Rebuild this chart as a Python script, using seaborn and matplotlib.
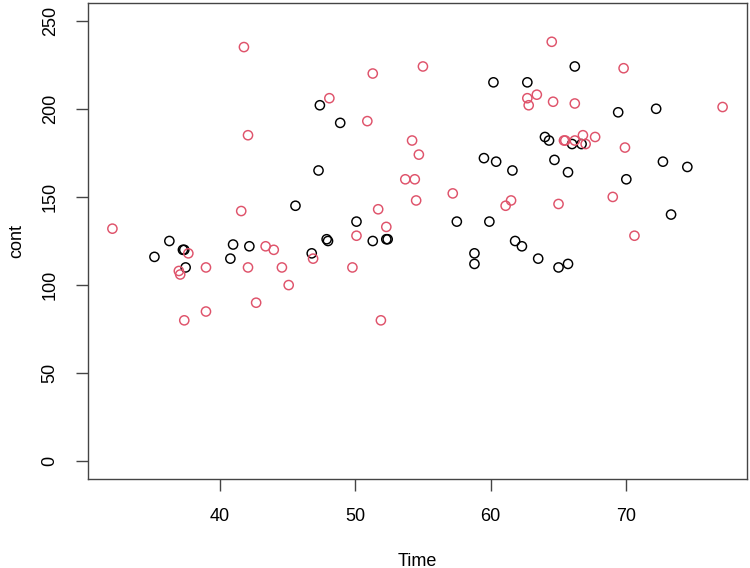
import pandas as pd
import seaborn as sns
import matplotlib.pyplot as plt

# points, group 1 (black) and group 2 (red)
time_1 = [35.2, 36.3, 37.3, 37.4, 37.5, 41.0, 40.8, 42.2, 45.6, 46.8,
          47.4, 47.3, 47.9, 48.0, 48.9, 50.1, 51.3, 52.3, 52.4, 57.5,
          58.8, 58.8, 59.5, 59.9, 60.2, 60.4, 61.6, 61.8, 62.3, 62.7,
          63.5, 64.0, 64.3, 64.7, 65.0, 65.7, 65.7, 66.0, 66.2, 66.7,
          69.4, 70.0, 72.2, 72.7, 73.3, 74.5]
cont_1 = [116, 125, 120, 120, 110, 123, 115, 122, 145, 118,
          202, 165, 126, 125, 192, 136, 125, 126, 126, 136,
          118, 112, 172, 136, 215, 170, 165, 125, 122, 215,
          115, 184, 182, 171, 110, 164, 112, 180, 224, 180,
          198, 160, 200, 170, 140, 167]

time_2 = [32.1, 41.8, 42.1, 41.6, 37.0, 37.1, 37.7, 39.0, 37.4, 39.0,
          42.1, 42.7, 43.4, 44.0, 44.6, 45.1, 46.9, 48.1, 49.8, 50.1,
          50.9, 51.3, 51.7, 51.9, 52.3, 53.7, 54.2, 54.4, 54.5, 54.7,
          55.0, 57.2, 61.1, 61.5, 62.7, 62.8, 63.4, 64.5, 64.6, 65.0,
          65.4, 65.5, 66.2, 66.2, 66.8, 67.0, 67.7, 69.0, 69.8, 69.9,
          70.6, 77.1]
cont_2 = [132, 235, 185, 142, 108, 106, 118, 110, 80, 85,
          110, 90, 122, 120, 110, 100, 115, 206, 110, 128,
          193, 220, 143, 80, 133, 160, 182, 160, 148, 174,
          224, 152, 145, 148, 206, 202, 208, 238, 204, 146,
          182, 182, 182, 203, 185, 180, 184, 150, 223, 178,
          128, 201]

df = pd.DataFrame({
    "Time": time_1 + time_2,
    "cont": cont_1 + cont_2,
    "group": ["1"] * len(time_1) + ["2"] * len(time_2),
})

sns.set_style("white")
plt.rcParams["font.family"] = ["Liberation Sans", "DejaVu Sans"]

fig = plt.figure(figsize=(7.5, 5.68), dpi=100)
ax = fig.add_axes([88 / 750, 89 / 568, 659 / 750, 476 / 568])

sns.scatterplot(data=df, x="Time", y="cont", hue="group",
                palette={"1": "black", "2": "#DF536B"},
                s=44, linewidth=0, legend=False, ax=ax)

# R style open circles
for coll in ax.collections:
    fc = coll.get_facecolors()
    coll.set_edgecolors(fc)
    coll.set_facecolors("none")
    coll.set_linewidths(1.05)

ax.set_xlim(30.3, 78.9)
ax.set_ylim(-10, 260)
ax.set_xticks([40, 50, 60, 70])
ax.set_yticks([0, 50, 100, 150, 200, 250])

for sp in ax.spines.values():
    sp.set_visible(True)
    sp.set_color("#444444")
    sp.set_linewidth(1.0)

ax.tick_params(axis="both", which="both", direction="out", length=8.6,
               width=1.0, color="#444444", labelsize=13, labelcolor="black",
               pad=12.5, bottom=True, left=True, top=False, right=False)
for lab in ax.get_yticklabels():
    lab.set_rotation(90)
    lab.set_va("center")

ax.set_xlabel("Time", fontsize=13, color="black")
ax.set_ylabel("cont", fontsize=13, color="black")
ax.xaxis.label.set_va("center")
ax.yaxis.label.set_va("center")
ax.xaxis.set_label_coords(0.5, -(560 - 478) / 476)
ax.yaxis.set_label_coords(-(88 - 17) / 659, 0.5)

fig.savefig("out.png", dpi=100)
